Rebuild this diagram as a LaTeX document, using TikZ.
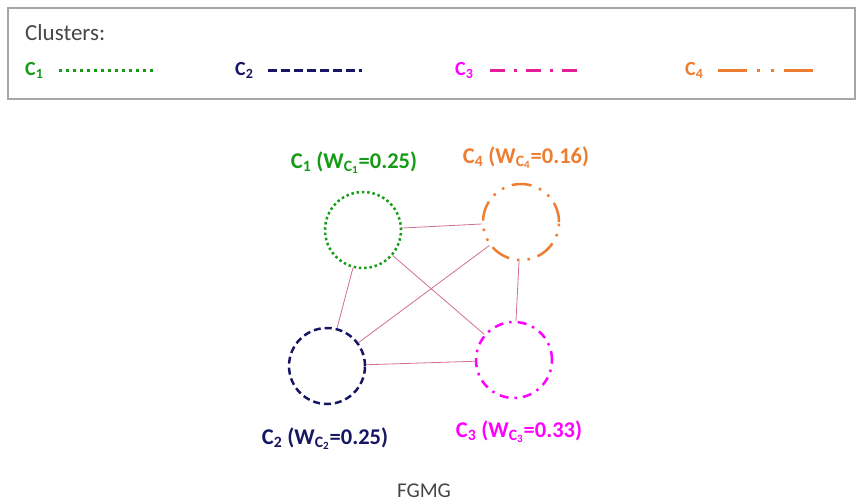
\documentclass[tikz,border=0pt]{standalone}
\usepackage{fontspec}
\setmainfont{Carlito}
\usetikzlibrary{positioning}

\definecolor{cgreen}{RGB}{22,155,22}
\definecolor{cnavy}{RGB}{22,22,100}
\definecolor{cmagenta}{RGB}{255,0,255}
\definecolor{cpink}{RGB}{228,30,150}
\definecolor{corange}{RGB}{237,125,49}
\definecolor{edgepink}{RGB}{210,110,145}
\definecolor{textgrey}{RGB}{70,70,70}

\begin{document}
\begin{tikzpicture}[x=1pt, y=-1pt,
		cluster/.style = {circle, minimum size=76pt, inner sep=0pt, line width=2.5pt},
		edge/.style = {draw=edgepink, line width=0.8pt},
		lbl/.style = {anchor=base, font=\fontsize{22.5}{26}\selectfont\bfseries},
		legend/.style = {anchor=base west, font=\fontsize{20}{24}\selectfont\bfseries},
		dotc/.style = {dash pattern=on 2.5pt off 2.8pt},
		dashc/.style = {dash pattern=on 7pt off 4pt},
		dashdotc/.style = {dash pattern=on 9pt off 6pt on 2.5pt off 6pt},
		dashdotdotc/.style = {dash pattern=on 20pt off 8pt on 2.5pt off 8pt on 2.5pt off 8pt}]
		\useasboundingbox (0,0) rectangle (858,501);
		
		% legend box
		\draw[gray!70, line width=1.2pt] (8,8) rectangle (855,99);
		\node[anchor=base west, text=textgrey, font=\fontsize{23}{27}\selectfont, inner sep=0pt] (title) at (25,40) {Clusters:};
		
		\node[legend, text=cgreen, inner sep=0pt] (leg1) at (25,75) {C\textsubscript{1}};
		\draw[cgreen, line width=3pt, dash pattern=on 3pt off 4pt] (59,70) -- (157,70);
		
		\node[legend, text=cnavy, inner sep=0pt] (leg2) at (235,75) {C\textsubscript{2}};
		\draw[cnavy, line width=3pt, dash pattern=on 9pt off 4pt] (268,70) -- (362,70);
		
		\node[legend, text=cmagenta, inner sep=0pt] (leg3) at (455,75) {C\textsubscript{3}};
		\draw[cpink, line width=3pt, dash pattern=on 15pt off 9pt on 3pt off 9pt] (490,70) -- (583,70);
		
		\node[legend, text=corange, inner sep=0pt] (leg4) at (685,75) {C\textsubscript{4}};
		\draw[corange, line width=3pt, dash pattern=on 29pt off 10pt on 3pt off 11pt on 3pt off 10pt] (718,70) -- (817,70);
		
		% clusters
		\node[cluster, draw=cgreen, dotc] (c1) at (363,230) {};
		\node[cluster, draw=cnavy, dashc] (c2) at (327,366) {};
		\node[cluster, draw=cmagenta, dashdotc] (c3) at (514,360) {};
		\node[cluster, draw=corange, dashdotdotc] (c4) at (521,222) {};
		
		\draw[edge] (c1) -- (c4);
		\draw[edge] (c1) -- (c2);
		\draw[edge] (c1) -- (c3);
		\draw[edge] (c4) -- (c2);
		\draw[edge] (c4) -- (c3);
		\draw[edge] (c2) -- (c3);
		
		% weights
		\node[lbl, text=cgreen] (w1) at (354,168) {C\textsubscript{1} (W\textsubscript{C\textsubscript{1}}=0.25)};
		\node[lbl, text=corange] (w4) at (526,163) {C\textsubscript{4} (W\textsubscript{C\textsubscript{4}}=0.16)};
		\node[lbl, text=cnavy] (w2) at (325,444) {C\textsubscript{2} (W\textsubscript{C\textsubscript{2}}=0.25)};
		\node[lbl, text=cmagenta] (w3) at (519,437) {C\textsubscript{3} (W\textsubscript{C\textsubscript{3}}=0.33)};
		
		\node[anchor=base, text=textgrey, font=\fontsize{21}{24}\selectfont] (caption) at (424,497) {FGMG};
		
	\end{tikzpicture}
\end{document}
